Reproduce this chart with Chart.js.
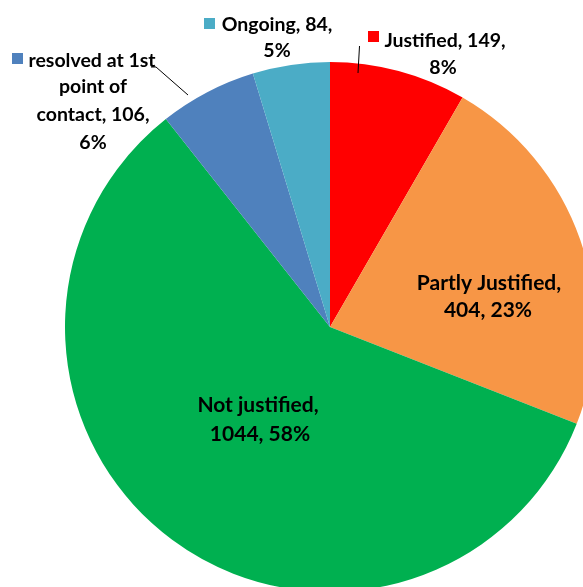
<!DOCTYPE html>
<html>
<head>
<meta charset="utf-8">
<script src="https://cdn.jsdelivr.net/npm/chart.js@4"></script>
<style>
  html, body { margin: 0; padding: 0; background: #fff; }
  #wrap { position: relative; width: 583px; height: 587px; overflow: hidden; }
  #pie { position: absolute; left: 0; top: -3px; }
</style>
</head>
<body>
<div id="wrap"><canvas id="pie" width="660" height="660"></canvas></div>
<script>
// Complaint outcomes (clockwise from 12 o'clock)
const categories = ['Justified', 'Partly Justified', 'Not justified', 'resolved at 1st point of contact', 'Ongoing'];
const counts = [149, 404, 1044, 106, 84];
const colors = ['#FF0000', '#F79646', '#00B050', '#4F81BD', '#4BACC6'];

const total = counts.reduce((a, b) => a + b, 0);
const pct = counts.map(v => Math.round(v / total * 100) + '%');

const FONT_IN = 'bold 21px Lato, "Liberation Sans", sans-serif';
const FONT_OUT = 'bold 19.5px Lato, "Liberation Sans", sans-serif';

// label layout: lines of text, centre x / baseline y in page coords, optional legend key
const labelLayout = [
    { lines: ['Justified, ' + counts[0] + ',', pct[0]], x: [445, 443], y: [47, 74], key: [368, 31], font: FONT_OUT },
    { lines: ['Partly Justified,', counts[1] + ', ' + pct[1]], x: [489, 488], y: [290, 317], font: FONT_IN },
    { lines: ['Not justified,', counts[2] + ', ' + pct[2]], x: [258, 260], y: [412, 441], font: FONT_IN },
    { lines: ['resolved at 1st', 'point of', 'contact, ' + counts[3] + ',', pct[3]], x: [92, 93, 93, 93], y: [67, 93, 121, 149], key: [12, 53], font: FONT_OUT },
    { lines: ['Ongoing, ' + counts[4] + ',', pct[4]], x: [277, 277], y: [31, 57], key: [204, 18], font: FONT_OUT }
];

const labelPlugin = {
    id: 'pieLabels',
    afterDraw(chart) {
        const c = chart.ctx;
        const off = 3; // canvas is shifted up 3px
        c.save();
        // leader lines
        c.strokeStyle = '#000';
        c.lineWidth = 1;
        c.beginPath();
        c.moveTo(359.5, 46 + off); c.lineTo(358, 73 + off);
        c.moveTo(151, 67 + off); c.lineTo(156, 67 + off); c.lineTo(188, 95 + off);
        c.stroke();

        c.fillStyle = '#000';
        c.textAlign = 'center';
        c.textBaseline = 'alphabetic';
        labelLayout.forEach((l, i) => {
            if (l.key) {
                c.fillStyle = colors[i];
                c.fillRect(l.key[0], l.key[1] + off, 11, 11);
                c.fillStyle = '#000';
            }
            c.font = l.font;
            l.lines.forEach((t, j) => c.fillText(t, l.x[j], l.y[j] + off));
        });
        c.restore();
    }
};

new Chart(document.getElementById('pie').getContext('2d'), {
    type: 'pie',
    data: {
        labels: categories,
        datasets: [{
            data: counts,
            backgroundColor: colors,
            borderWidth: 0
        }]
    },
    options: {
        responsive: false,
        animation: false,
        layout: { padding: 65 },
        plugins: {
            legend: { display: false },
            tooltip: { enabled: false }
        }
    },
    plugins: [labelPlugin]
});
</script>
</body>
</html>
